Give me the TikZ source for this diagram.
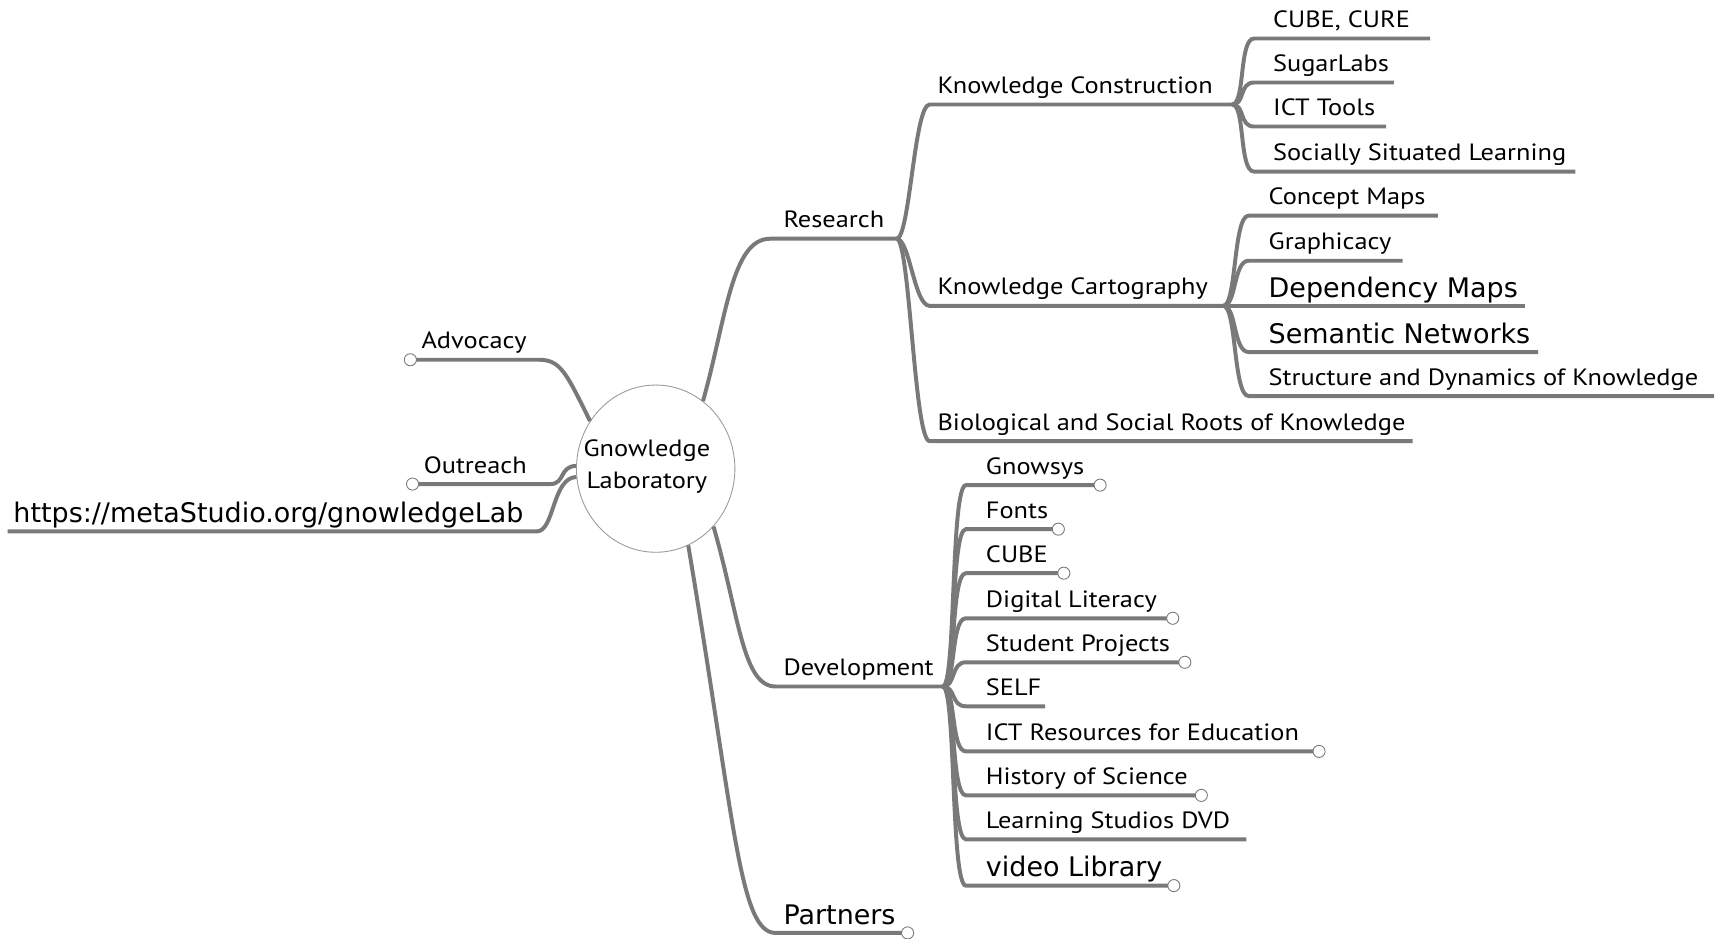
\documentclass[tikz,border=0pt]{standalone}
\usepackage{fontspec}
\setmainfont{PT Sans}[FakeStretch=1.12]
\newfontfamily\dejavu{DejaVu Sans}
\usetikzlibrary{shapes.geometric}
\definecolor{linegray}{HTML}{797979}
\definecolor{rimgray}{HTML}{9A9A9A}

\begin{document}
\begin{tikzpicture}[x=1pt, y=-1pt,
  line/.style={draw=linegray, line width=3.6pt},
  link/.style={to path={.. controls +(12,0) and +(-14,0) .. (\tikztotarget)}},
  topic/.style={anchor=base west, inner sep=0pt, font=\fontsize{21.4}{25}\selectfont},
  bigtopic/.style={anchor=base west, inner sep=0pt, font=\dejavu\fontsize{24.5}{28}\selectfont},
  tip/.style={circle, draw=linegray, fill=white, line width=0.8pt, minimum size=11pt, inner sep=0pt}]
\useasboundingbox (0,0) rectangle (1568,853);

\node[ellipse, draw=rimgray, line width=0.8pt, minimum width=144pt, minimum height=152pt, inner sep=0pt] (glab) at (596,426) {};
\node[align=center, inner sep=0pt, font=\fontsize{21.4}{29}\selectfont] (glab-text) at (588,424) {Gnowledge\\Laboratory};

\coordinate (adv-s) at (373,327); \coordinate (adv-e) at (490,327);
\node[topic] (adv) at (383,317) {Advocacy};
\draw[line] (glab.144) .. controls (515,340) and (510,327) .. (adv-e) -- (adv-s);
\node[tip] (adv-t) at (adv-s) {};

\coordinate (outr-s) at (375,440); \coordinate (outr-e) at (500,440);
\node[topic] (outr) at (385,430) {Outreach};
\draw[line] (glab.178) .. controls (508,424) and (514,440) .. (outr-e) -- (outr-s);
\node[tip] (outr-t) at (outr-s) {};

\coordinate (url-s) at (7,483); \coordinate (url-e) at (488,483);
\node[bigtopic] (url) at (12,475) {https://metaStudio.org/gnowledgeLab};
\draw[line] (glab.186) .. controls (502,434) and (504,483) .. (url-e) -- (url-s);

\coordinate (res-s) at (700,217); \coordinate (res-e) at (815,217);
\node[topic] (res) at (712,207) {Research};
\draw[line] (glab.55) .. controls (660,290) and (665,217) .. (res-s) -- (res-e);

\coordinate (dev-s) at (705,624); \coordinate (dev-e) at (857,624);
\node[topic] (dev) at (712,614) {Development};
\draw[line] (glab.-45) .. controls (672,560) and (675,624) .. (dev-s) -- (dev-e);

\coordinate (par-s) at (705,848); \coordinate (par-e) at (825,848);
\node[bigtopic] (par) at (712,840) {Partners};
\draw[line] (glab.-67) .. controls (668,747) and (672,848) .. (par-s) -- (par-e);
\node[tip] (par-t) at (par-e) {};

\coordinate (kc-s) at (845,95); \coordinate (kc-e) at (1120,95);
\node[topic] (kc) at (852,85) {Knowledge Construction};
\draw[line] (res-e) to[link] (kc-s) -- (kc-e);

\coordinate (kcart-s) at (845,278); \coordinate (kcart-e) at (1112,278);
\node[topic] (kcart) at (852,268) {Knowledge Cartography};
\draw[line] (res-e) to[link] (kcart-s) -- (kcart-e);

\coordinate (bio-s) at (845,401); \coordinate (bio-e) at (1284,401);
\node[topic] (bio) at (852,391) {Biological and Social Roots of Knowledge};
\draw[line] (res-e) to[link] (bio-s) -- (bio-e);

\coordinate (cc-s) at (1140,35); \coordinate (cc-e) at (1300,35);
\node[topic] (cc) at (1157,25) {CUBE, CURE};
\draw[line] (kc-e) to[link] (cc-s) -- (cc-e);

\coordinate (sugar-s) at (1140,75); \coordinate (sugar-e) at (1267,75);
\node[topic] (sugar) at (1157,65) {SugarLabs};
\draw[line] (kc-e) to[link] (sugar-s) -- (sugar-e);

\coordinate (icttools-s) at (1140,115); \coordinate (icttools-e) at (1260,115);
\node[topic] (icttools) at (1157,105) {ICT Tools};
\draw[line] (kc-e) to[link] (icttools-s) -- (icttools-e);

\coordinate (ssl-s) at (1140,156); \coordinate (ssl-e) at (1432,156);
\node[topic] (ssl) at (1157,146) {Socially Situated Learning};
\draw[line] (kc-e) to[link] (ssl-s) -- (ssl-e);

\coordinate (cmaps-s) at (1135,196); \coordinate (cmaps-e) at (1307,196);
\node[topic] (cmaps) at (1153,186) {Concept Maps};
\draw[line] (kcart-e) to[link] (cmaps-s) -- (cmaps-e);

\coordinate (graph-s) at (1135,237); \coordinate (graph-e) at (1275,237);
\node[topic] (graph) at (1153,227) {Graphicacy};
\draw[line] (kcart-e) to[link] (graph-s) -- (graph-e);

\coordinate (dmaps-s) at (1135,278); \coordinate (dmaps-e) at (1386,278);
\node[bigtopic] (dmaps) at (1153,270) {Dependency Maps};
\draw[line] (kcart-e) to[link] (dmaps-s) -- (dmaps-e);

\coordinate (semnet-s) at (1135,320); \coordinate (semnet-e) at (1398,320);
\node[bigtopic] (semnet) at (1153,312) {Semantic Networks};
\draw[line] (kcart-e) to[link] (semnet-s) -- (semnet-e);

\coordinate (sdk-s) at (1135,360); \coordinate (sdk-e) at (1558,360);
\node[topic] (sdk) at (1153,350) {Structure and Dynamics of Knowledge};
\draw[line] (kcart-e) to[link] (sdk-s) -- (sdk-e);

\coordinate (gnowsys-s) at (878,441); \coordinate (gnowsys-e) at (1000,441);
\node[topic] (gnowsys) at (896,431) {Gnowsys};
\draw[line] (dev-e) to[link] (gnowsys-s) -- (gnowsys-e);
\node[tip] (gnowsys-t) at (gnowsys-e) {};

\coordinate (fonts-s) at (878,481); \coordinate (fonts-e) at (962,481);
\node[topic] (fonts) at (896,471) {Fonts};
\draw[line] (dev-e) to[link] (fonts-s) -- (fonts-e);
\node[tip] (fonts-t) at (fonts-e) {};

\coordinate (cubedev-s) at (878,521); \coordinate (cubedev-e) at (967,521);
\node[topic] (cubedev) at (896,511) {CUBE};
\draw[line] (dev-e) to[link] (cubedev-s) -- (cubedev-e);
\node[tip] (cubedev-t) at (cubedev-e) {};

\coordinate (diglit-s) at (878,562); \coordinate (diglit-e) at (1066,562);
\node[topic] (diglit) at (896,552) {Digital Literacy};
\draw[line] (dev-e) to[link] (diglit-s) -- (diglit-e);
\node[tip] (diglit-t) at (diglit-e) {};

\coordinate (studproj-s) at (878,602); \coordinate (studproj-e) at (1077,602);
\node[topic] (studproj) at (896,592) {Student Projects};
\draw[line] (dev-e) to[link] (studproj-s) -- (studproj-e);
\node[tip] (studproj-t) at (studproj-e) {};

\coordinate (self-s) at (878,642); \coordinate (self-e) at (950,642);
\node[topic] (self) at (896,632) {SELF};
\draw[line] (dev-e) to[link] (self-s) -- (self-e);

\coordinate (ictres-s) at (878,683); \coordinate (ictres-e) at (1199,683);
\node[topic] (ictres) at (896,673) {ICT Resources for Education};
\draw[line] (dev-e) to[link] (ictres-s) -- (ictres-e);
\node[tip] (ictres-t) at (ictres-e) {};

\coordinate (hos-s) at (878,723); \coordinate (hos-e) at (1092,723);
\node[topic] (hos) at (896,713) {History of Science};
\draw[line] (dev-e) to[link] (hos-s) -- (hos-e);
\node[tip] (hos-t) at (hos-e) {};

\coordinate (lsdvd-s) at (878,763); \coordinate (lsdvd-e) at (1133,763);
\node[topic] (lsdvd) at (896,753) {Learning Studios DVD};
\draw[line] (dev-e) to[link] (lsdvd-s) -- (lsdvd-e);

\coordinate (vlib-s) at (878,805); \coordinate (vlib-e) at (1067,805);
\node[bigtopic] (vlib) at (896,797) {video Library};
\draw[line] (dev-e) to[link] (vlib-s) -- (vlib-e);
\node[tip] (vlib-t) at (vlib-e) {};
\end{tikzpicture}
\end{document}
